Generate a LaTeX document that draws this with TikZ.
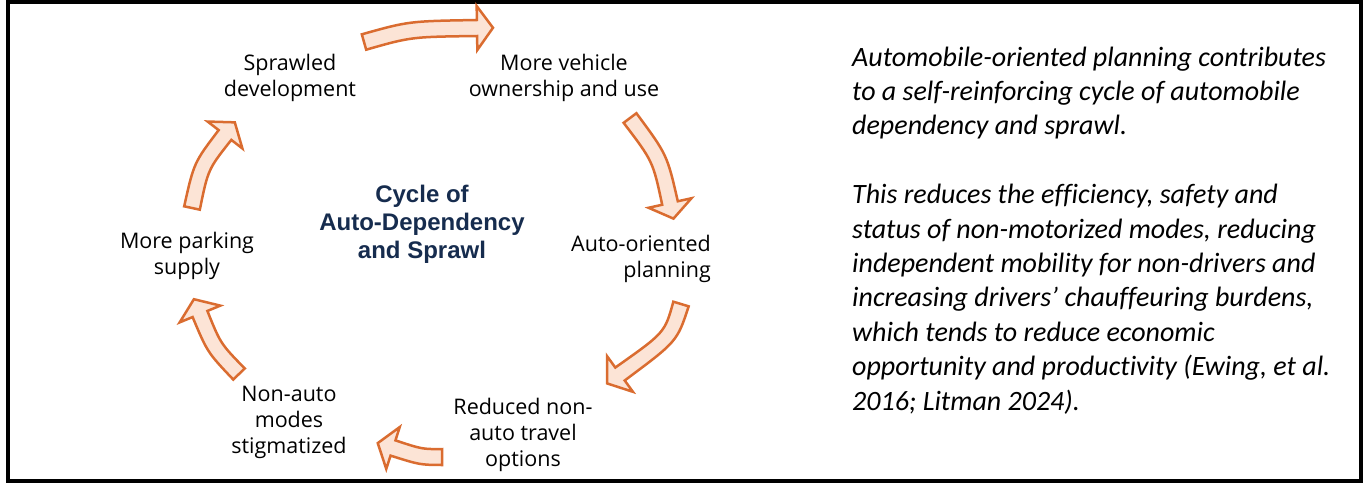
\documentclass[tikz,border=0pt]{standalone}
\usepackage{fontspec}
\setmainfont{Open Sans}
\newfontfamily\notefont[Ligatures=NoCommon]{Carlito}
\newfontfamily\titlefont{Liberation Sans}
\usetikzlibrary{calc}
\definecolor{arrowline}{RGB}{218,108,48}
\definecolor{arrowfill}{RGB}{252,228,214}
\definecolor{titleblue}{RGB}{22,44,78}
\newcommand\cyclearrow[3]{%
  \coordinate (t) at (#1);
  \coordinate (c) at (#2);
  \coordinate (b) at (#3);
  \coordinate (tL) at ($(t)!8pt!90:(c)$);
  \coordinate (tR) at ($(t)!8pt!-90:(c)$);
  \coordinate (bL) at ($(b)!8pt!-90:(c)$);
  \coordinate (bR) at ($(b)!8pt!90:(c)$);
  \coordinate (cL) at ($(c)+0.5*(tL)-0.5*(t)+0.5*(bL)-0.5*(b)$);
  \coordinate (cR) at ($(c)+0.5*(tR)-0.5*(t)+0.5*(bR)-0.5*(b)$);
  \coordinate (hL) at ($(b)!22pt!-90:(c)$);
  \coordinate (hR) at ($(b)!22pt!90:(c)$);
  \coordinate (tip) at ($(b)!-16pt!(c)$);
  \draw[blockarrow] (tL) .. controls (cL) .. (bL) -- (hL) -- (tip) -- (hR) -- (bR) .. controls (cR) .. (tR) -- cycle;
}
\begin{document}
\begin{tikzpicture}[x=1pt,y=-1pt,
  lbl/.style={font=\fontsize{21.5}{26}\selectfont, align=center, inner sep=0pt, text=black},
  cycletitle/.style={font=\titlefont\bfseries\fontsize{24}{27.8}\selectfont, align=center, inner sep=0pt, text=titleblue},
  note/.style={font=\notefont\itshape\fontsize{28}{34.4}\selectfont, align=left, inner sep=0pt, text=black},
  blockarrow/.style={draw=arrowline, fill=arrowfill, line width=2.5pt, line join=miter}]
\useasboundingbox (0,0) rectangle (1363,483);
\draw[line width=4pt] (8,2) rectangle (1361,481);

% base anchor = baseline of the last line
\node[lbl, anchor=base] (sprawl) at (290,96) {Sprawled\\development};
\node[lbl, anchor=base] (vehicle) at (564,96) {More vehicle\\ownership and use};
\node[lbl, align=right, anchor=base east] (planning) at (711,277) {Auto-oriented\\planning};
\node[lbl, anchor=base] (reduced) at (523,466) {Reduced non-\\auto travel\\options};
\node[lbl, anchor=base] (stigma) at (289,453) {Non-auto\\modes\\stigmatized};
\node[lbl, anchor=base] (parking) at (187,274) {More parking\\supply};
\node[cycletitle, anchor=base] (title) at (422,258) {Cycle of\\Auto-Dependency\\and Sprawl};

\cyclearrow{364,42}{410,29}{477,28}
\cyclearrow{630,118}{660,158}{670,203}
\cyclearrow{681,304}{671,337}{620,374}
\cyclearrow{442,457}{421,457}{393,448}
\cyclearrow{239,374}{214,348}{200,314}
\cyclearrow{192,208}{201,166}{225,135}

\node[note, anchor=base west] (note) at (852,410) {Automobile-oriented planning contributes\\to a self-reinforcing cycle of automobile\\dependency and sprawl.\\[34.4pt]This reduces the efficiency, safety and\\status of non-motorized modes, reducing\\independent mobility for non-drivers and\\increasing drivers’ chauffeuring burdens,\\which tends to reduce economic\\opportunity and productivity (Ewing, et al.\\2016; Litman 2024).};
\end{tikzpicture}
\end{document}
